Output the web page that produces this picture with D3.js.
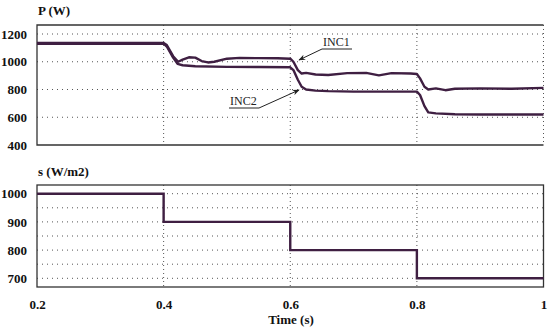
<!DOCTYPE html>
<html><head><meta charset="utf-8">
<script src="https://cdn.jsdelivr.net/npm/d3@7"></script>
<style>body{margin:0;background:#fff}svg{display:block}</style>
</head><body><svg id="c" width="550" height="330"></svg>
<script>
// ---- data ----
const timeTicks = [0.2, 0.4, 0.6, 0.8, 1];
const pTicks = [400, 600, 800, 1000, 1200];
const sTicks = [700, 800, 900, 1000];
const sGrid = [700, 750, 800, 850, 900, 950, 1000];

const inc1T = [0.2,0.4,0.405,0.415,0.423,0.43,0.44,0.45,0.46,0.47,0.48,0.5,0.52,0.55,0.58,0.6,0.605,0.612,0.618,0.625,0.64,0.66,0.69,0.72,0.74,0.76,0.79,0.8,0.805,0.812,0.818,0.83,0.845,0.86,0.9,0.95,1.0];
const inc1P = [1135,1135,1120,1040,1000,1015,1032,1030,1005,995,1000,1022,1028,1026,1025,1022,1000,940,915,920,908,905,918,920,902,918,915,912,880,820,800,808,795,805,808,805,812];

const inc2T = [0.2,0.4,0.405,0.415,0.422,0.43,0.45,0.5,0.55,0.6,0.605,0.612,0.618,0.625,0.64,0.66,0.7,0.75,0.8,0.805,0.812,0.818,0.83,0.86,0.9,1.0];
const inc2P = [1130,1130,1110,1030,985,975,968,963,962,960,940,870,820,800,792,788,785,785,785,760,680,635,628,622,620,620];

const sT = [0.2, 0.4, 0.6, 0.8, 1.0];
const sV = [1000, 900, 800, 700, 700];

// ---- drawing ----
const svg = d3.select("#c");
const lineColor = "#3f1f42";
const x = d3.scaleLinear().domain([0.2, 1]).range([37, 543.5]);
const yP = d3.scaleLinear().domain([400, 1200]).range([145, 34]);
const yS = d3.scaleLinear().domain([700, 1000]).range([278.3, 193.7]);

const serif = "'Liberation Serif','Times New Roman',serif";
const FS = 13;

function grid(yScale, vals, top, bottom) {
  const g = svg.append("g");
  g.selectAll(".h").data(vals).enter().append("line")
    .attr("x1", x(0.2)).attr("x2", x(1))
    .attr("y1", d => yScale(d)).attr("y2", d => yScale(d))
    .attr("stroke", "#555").attr("stroke-width", 1).attr("stroke-dasharray", "1,4");
  g.selectAll(".v").data([0.4, 0.6, 0.8, 1]).enter().append("line")
    .attr("x1", d => x(d)).attr("x2", d => x(d))
    .attr("y1", top).attr("y2", bottom)
    .attr("stroke", "#555").attr("stroke-width", 1).attr("stroke-dasharray", "1,3");
}

function styleText(sel) {
  sel.attr("font-family", serif).attr("font-weight", "bold").attr("font-size", FS).attr("fill", "#111");
}

// top panel
const pTop = 25, pBot = 145;
grid(yP, [600, 800, 1000, 1200], pTop, pBot);
svg.append("path").attr("d", `M${x(1)},${pTop}H${x(0.2)}V${pBot}H${x(1)}`)
  .attr("fill", "none").attr("stroke", "#333").attr("stroke-width", 1.3);

const lineP = (T, V) => d3.line().x((d, i) => x(T[i])).y(d => yP(d))(V);
svg.append("path").attr("d", lineP(inc1T, inc1P)).attr("fill", "none")
  .attr("stroke", lineColor).attr("stroke-width", 2.4).attr("stroke-linejoin", "round");
svg.append("path").attr("d", lineP(inc2T, inc2P)).attr("fill", "none")
  .attr("stroke", lineColor).attr("stroke-width", 2.4).attr("stroke-linejoin", "round");

const yAxisP = d3.axisLeft(yP).tickValues(pTicks).tickSize(0).tickPadding(10).tickFormat(d3.format("d"));
const gp = svg.append("g").attr("transform", `translate(${x(0.2)},0)`).call(yAxisP);
gp.select(".domain").remove();
styleText(gp.selectAll("text"));

styleText(svg.append("text").attr("x", 38).attr("y", 15).text("P (W)"));

// annotations
const ann = svg.append("g").attr("font-family", serif).attr("font-size", 12).attr("fill", "#222");
ann.append("text").attr("x", 323).attr("y", 46).text("INC1");
ann.append("line").attr("x1", 322).attr("x2", 352).attr("y1", 49).attr("y2", 49).attr("stroke", "#222");
ann.append("text").attr("x", 230).attr("y", 105).text("INC2");
ann.append("line").attr("x1", 229).attr("x2", 259).attr("y1", 108).attr("y2", 108).attr("stroke", "#222");
svg.append("defs").append("marker").attr("id", "ar").attr("viewBox", "0 0 10 10")
  .attr("refX", 9).attr("refY", 5).attr("markerWidth", 7).attr("markerHeight", 7).attr("orient", "auto")
  .append("path").attr("d", "M0,1 L10,5 L0,9 L3,5 z").attr("fill", "#222");
svg.append("line").attr("x1", 322).attr("y1", 49).attr("x2", 299).attr("y2", 60)
  .attr("stroke", "#222").attr("marker-end", "url(#ar)");
svg.append("line").attr("x1", 259).attr("y1", 108).attr("x2", 299).attr("y2", 90)
  .attr("stroke", "#222").attr("marker-end", "url(#ar)");

// bottom panel
const sTop = 185, sBot = 287;
grid(yS, sGrid, sTop, sBot);
svg.append("rect").attr("x", x(0.2)).attr("y", sTop).attr("width", x(1) - x(0.2)).attr("height", sBot - sTop)
  .attr("fill", "none").attr("stroke", "#333").attr("stroke-width", 1.3);
svg.append("path").attr("d", d3.line().x((d, i) => x(sT[i])).y(d => yS(d)).curve(d3.curveStepAfter)(sV))
  .attr("fill", "none").attr("stroke", lineColor).attr("stroke-width", 2.4);

const yAxisS = d3.axisLeft(yS).tickValues(sTicks).tickSize(0).tickPadding(10).tickFormat(d3.format("d"));
const gs = svg.append("g").attr("transform", `translate(${x(0.2)},0)`).call(yAxisS);
gs.select(".domain").remove();
styleText(gs.selectAll("text"));

styleText(svg.append("text").attr("x", 38).attr("y", 176).text("s (W/m2)"));

const xAxis = d3.axisBottom(x).tickValues(timeTicks).tickSize(0).tickPadding(13)
  .tickFormat(d => String(+d.toFixed(1)));
const gx = svg.append("g").attr("transform", `translate(0,${sBot})`).call(xAxis);
gx.select(".domain").remove();
styleText(gx.selectAll("text"));

styleText(svg.append("text").attr("x", 291).attr("y", 324).attr("text-anchor", "middle").text("Time (s)"));
</script></body></html>
